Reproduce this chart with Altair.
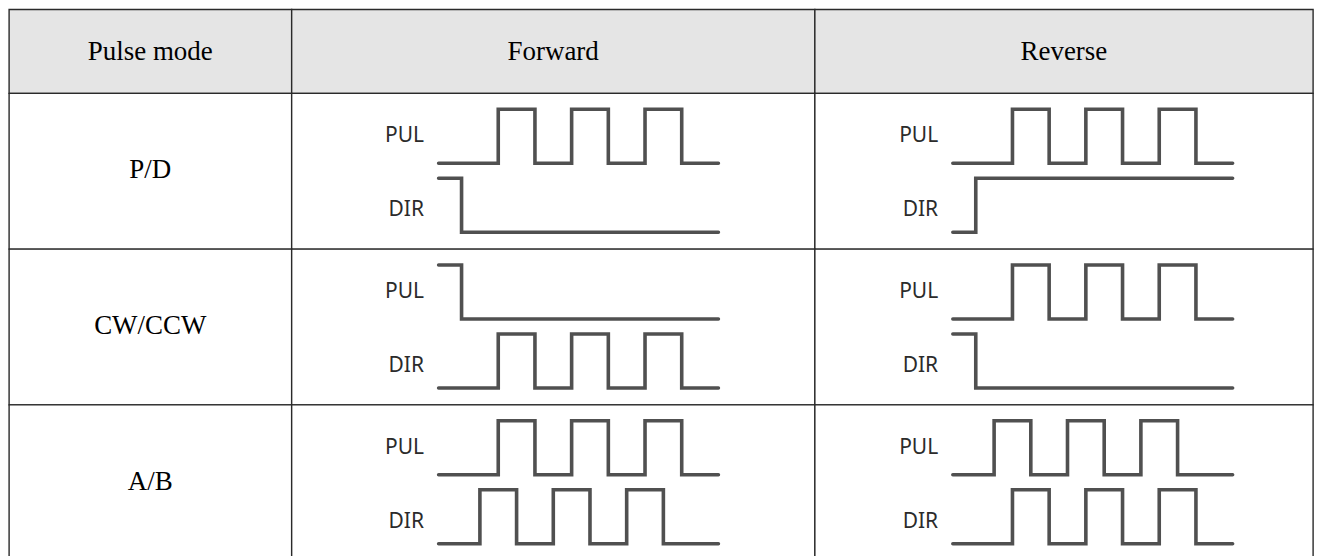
import altair as alt
import pandas as pd

# ---------------- data ----------------
header_labels = ["Pulse mode", "Forward", "Reverse"]
modes = ["P/D", "CW/CCW", "A/B"]
directions = ["Forward", "Reverse"]
signals = ["PUL", "DIR"]

# time axis in quarter pulse periods
t_start = 0.75
t_end = 16.0
pulses = [4, 6, 8, 10, 12, 14]          # toggle times of a pulse train
pulses_early = [3, 5, 7, 9, 11, 13]     # train leading by a quarter period
single_edge = [2]                        # one level change

# initial level, toggle times  (per mode / direction / signal)
pd_forward_pul, pd_forward_dir = (0, pulses), (1, single_edge)
pd_reverse_pul, pd_reverse_dir = (0, pulses), (0, single_edge)
cw_forward_pul, cw_forward_dir = (1, single_edge), (0, pulses)
cw_reverse_pul, cw_reverse_dir = (0, pulses), (1, single_edge)
ab_forward_pul, ab_forward_dir = (0, pulses), (0, pulses_early)
ab_reverse_pul, ab_reverse_dir = (0, pulses_early), (0, pulses)

waves = {
    ("P/D", "Forward"): {"PUL": pd_forward_pul, "DIR": pd_forward_dir},
    ("P/D", "Reverse"): {"PUL": pd_reverse_pul, "DIR": pd_reverse_dir},
    ("CW/CCW", "Forward"): {"PUL": cw_forward_pul, "DIR": cw_forward_dir},
    ("CW/CCW", "Reverse"): {"PUL": cw_reverse_pul, "DIR": cw_reverse_dir},
    ("A/B", "Forward"): {"PUL": ab_forward_pul, "DIR": ab_forward_dir},
    ("A/B", "Reverse"): {"PUL": ab_reverse_pul, "DIR": ab_reverse_dir},
}

# ---------------- layout / style ----------------
col_w = [283, 524, 499]
row_h = [84, 156, 156, 165]
unit_px = 18.375                 # pixels per time unit
origin_px = {"Forward": 133.5, "Reverse": 124.5}
level_px = 54.0                  # high-low distance
low_px = 70.0                    # PUL low level from cell top
lane_offset = {"PUL": 0.0, "DIR": 1.28}
label_pos = {"PUL": 0.5, "DIR": 0.41}

BORDER = "#2a2a2a"
HEADER_FILL = "#e5e5e5"
WAVE = "#474747"
SERIF = "Liberation Serif"
SANS = "Noto Sans"


def view(fill="white"):
    return alt.ViewBackground(stroke=BORDER, strokeWidth=1.4, fill=fill)


def text_cell(label, w, h, fill="white", centre=None):
    c = h / 2 if centre is None else centre
    return alt.Chart(pd.DataFrame({"label": [label]})).mark_text(
        font=SERIF, fontSize=27, color="black", align="center", baseline="middle"
    ).encode(
        x=alt.value(w / 2), y=alt.value(c + 1), text="label:N"
    ).properties(width=w, height=h, view=view(fill))


def wave_cell(mode, direction, w, h):
    rows = []
    for s in signals:
        lvl, edges = waves[(mode, direction)][s]
        pts = [(t_start, lvl)]
        for e in edges:
            pts.append((e, lvl))
            lvl = 1 - lvl
            pts.append((e, lvl))
        pts.append((t_end, lvl))
        for i, (t, l) in enumerate(pts):
            rows.append({"signal": s, "i": i, "t": t, "v": l - lane_offset[s]})
    df = pd.DataFrame(rows)
    labels = pd.DataFrame({
        "signal": signals,
        "t": [-0.05, -0.05],
        "v": [label_pos[s] - lane_offset[s] for s in signals],
    })
    o = origin_px[direction]
    xs = alt.Scale(domain=[-o / unit_px, (w - o) / unit_px], nice=False, zero=False)
    ys = alt.Scale(domain=[(low_px - h) / level_px, low_px / level_px], nice=False, zero=False)
    lines = alt.Chart(df).mark_line(
        color=WAVE, strokeWidth=3.6, strokeCap="round", strokeJoin="miter", opacity=0.95
    ).encode(
        x=alt.X("t:Q", scale=xs, axis=None),
        y=alt.Y("v:Q", scale=ys, axis=None),
        detail="signal:N",
        order="i:Q",
    )
    txt = alt.Chart(labels).mark_text(
        font=SANS, fontSize=21, color="#2b2b2b", align="right", baseline="middle"
    ).encode(
        x=alt.X("t:Q", scale=xs, axis=None),
        y=alt.Y("v:Q", scale=ys, axis=None),
        text="signal:N",
    )
    return alt.layer(lines, txt).properties(width=w, height=h, view=view())


cells = [text_cell(lbl, col_w[j], row_h[0], HEADER_FILL) for j, lbl in enumerate(header_labels)]
for r, m in enumerate(modes):
    h = row_h[r + 1]
    cells.append(text_cell(m, col_w[0], h, centre=76))
    for j, d in enumerate(directions):
        cells.append(wave_cell(m, d, col_w[j + 1], h))

chart = alt.concat(
    *cells, columns=3, spacing=0, bounds="flush", align="each"
).properties(padding=0).configure(background="white").configure_view(stroke=BORDER)

chart.save("out.html", embed_options={"renderer": "svg", "actions": False})
